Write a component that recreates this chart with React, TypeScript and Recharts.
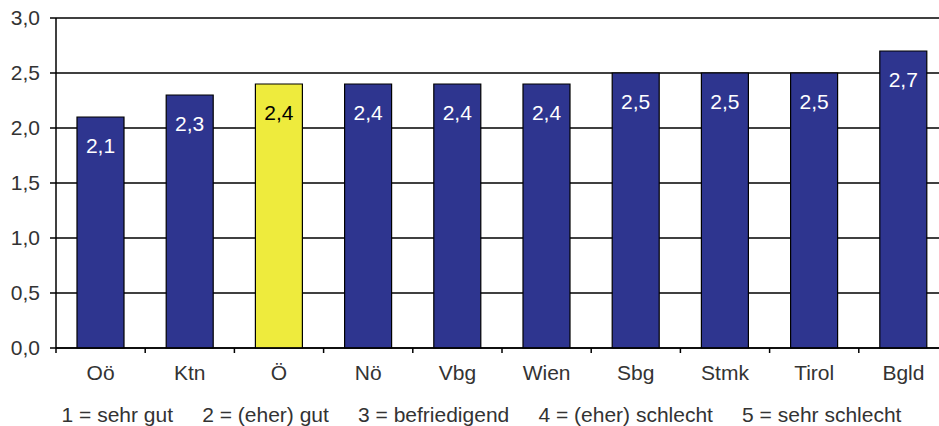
import { BarChart, Bar, XAxis, YAxis, CartesianGrid, Cell, LabelList } from 'recharts';

const regions = ['Oö', 'Ktn', 'Ö', 'Nö', 'Vbg', 'Wien', 'Sbg', 'Stmk', 'Tirol', 'Bgld'];
const grades = [2.1, 2.3, 2.4, 2.4, 2.4, 2.4, 2.5, 2.5, 2.5, 2.7];
const yTicks = [0, 0.5, 1, 1.5, 2, 2.5, 3];
const legendText = '1 = sehr gut     2 = (eher) gut     3 = befriedigend     4 = (eher) schlecht     5 = sehr schlecht';

const highlight = 'Ö';

const data = regions.map((name, i) => ({ name, value: grades[i] }));

const WIDTH = 950;
const HEIGHT = 426;
const LEFT = 56;
const RIGHT = 2;
const band = (WIDTH - LEFT - RIGHT) / regions.length;

const fmt = (v: number) => v.toFixed(1).replace('.', ',');

const CategoryTick = (props: any) => {
  const { x, y, payload } = props;
  return (
    <g>
      <line x1={x - band / 2} y1={y - 8} x2={x - band / 2} y2={y - 3} stroke="#000" strokeWidth={1.5} />
      <text x={x} y={y + 24} textAnchor="middle" fill="#333" fontSize={21}>
        {payload.value}
      </text>
    </g>
  );
};

const ValueLabel = (props: any) => {
  const { x, y, width, value, index } = props;
  const isHi = regions[index] === highlight;
  return (
    <text
      x={x + width / 2}
      y={y + 36}
      textAnchor="middle"
      fill={isHi ? '#000' : '#fff'}
      fontSize={21}
    >
      {fmt(value)}
    </text>
  );
};

export default function App() {
  return (
    <div
      style={{
        position: 'absolute',
        left: 0,
        top: 0,
        width: 939,
        height: HEIGHT,
        overflow: 'hidden',
        background: '#fff',
        fontFamily: '"Liberation Sans", Arial, sans-serif',
      }}
    >
      <BarChart
        width={WIDTH}
        height={HEIGHT}
        data={data}
        margin={{ top: 18, right: RIGHT, left: 0, bottom: 38 }}
      >
        <CartesianGrid vertical={false} stroke="#000" strokeWidth={1.5} />
        <XAxis
          dataKey="name"
          height={40}
          axisLine={{ stroke: '#000', strokeWidth: 1.5 }}
          tickLine={false}
          tick={<CategoryTick />}
          interval={0}
        />
        <YAxis
          width={LEFT}
          domain={[0, 3]}
          ticks={yTicks}
          tickFormatter={fmt}
          axisLine={{ stroke: '#000', strokeWidth: 1.5 }}
          tickLine={{ stroke: '#000', strokeWidth: 1.5 }}
          tickSize={6}
          tickMargin={10}
          tick={{ fill: '#333', fontSize: 21 }}
          interval={0}
        />
        <Bar dataKey="value" barSize={47} stroke="#000" strokeWidth={1.2} isAnimationActive={false}>
          {data.map((d) => (
            <Cell key={d.name} fill={d.name === highlight ? '#EEEB3D' : '#2E358F'} />
          ))}
          <LabelList dataKey="value" content={<ValueLabel />} />
        </Bar>
      </BarChart>
      <div
        style={{
          position: 'absolute',
          left: 0,
          width: 963,
          top: 403,
          textAlign: 'center',
          fontSize: 21,
          color: '#333',
          whiteSpace: 'pre',
        }}
      >
        {legendText}
      </div>
    </div>
  );
}
